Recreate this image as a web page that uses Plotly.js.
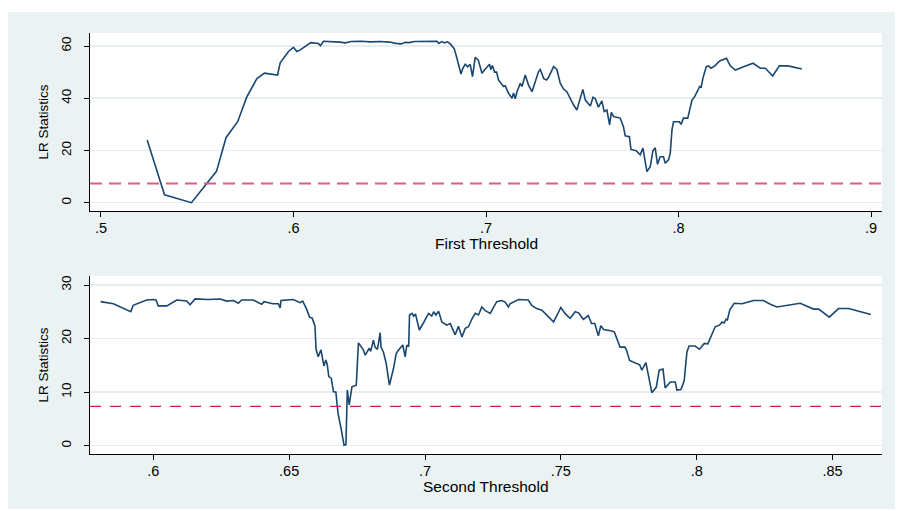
<!DOCTYPE html>
<html>
<head>
<meta charset="utf-8">
<script src="https://cdn.plot.ly/plotly-3.0.1.min.js"></script>
<style>
  html, body { margin: 0; padding: 0; background: #ffffff; width: 898px; height: 511px; overflow: hidden; }
  #plot { position: absolute; left: 8px; top: 12px; width: 887px; height: 497px; }
</style>
</head>
<body>
<div id="plot"></div>
<script>
// ---- Data ----
const firstThreshold = [
  0.524, 0.533, 0.547, 0.560, 0.565, 0.571, 0.5757, 0.5809, 0.5849, 0.5917,
  0.5931, 0.5974, 0.6000, 0.6017, 0.6035, 0.6090, 0.6130, 0.6140, 0.6156, 0.6200,
  0.6240, 0.6270, 0.6300, 0.6350, 0.6400, 0.6450, 0.6500, 0.6530, 0.6560, 0.6580,
  0.6600, 0.6630, 0.6680, 0.6720, 0.6745, 0.6755, 0.6770, 0.6785, 0.6800, 0.6814,
  0.6835, 0.6849, 0.6870, 0.6880, 0.6892, 0.6905, 0.6918, 0.6930, 0.6944, 0.6960,
  0.6979, 0.7000, 0.7018, 0.7025, 0.7033, 0.7045, 0.7055, 0.7065, 0.7078, 0.7091,
  0.7100, 0.7117, 0.7135, 0.7143, 0.7152, 0.7161, 0.7178, 0.7187, 0.7204, 0.7221,
  0.7239, 0.7256, 0.7273, 0.7282, 0.7300, 0.7315, 0.7325, 0.7351, 0.7368, 0.7386,
  0.7403, 0.7420, 0.7437, 0.7455, 0.7472, 0.7486, 0.7503, 0.7516, 0.7542, 0.7556,
  0.7568, 0.7584, 0.7602, 0.7614, 0.7628, 0.7642, 0.7651, 0.7663, 0.7697, 0.7714,
  0.7723, 0.7745, 0.7753, 0.7780, 0.7801, 0.7815, 0.7836, 0.7853, 0.7867, 0.7879,
  0.7891, 0.7905, 0.7922, 0.7931, 0.7948, 0.7957, 0.7966, 0.7974, 0.8004, 0.8013,
  0.8026, 0.8048, 0.8070, 0.8084, 0.8096, 0.8105, 0.8110, 0.8117, 0.8127, 0.8144,
  0.8156, 0.8169, 0.8190, 0.8214, 0.8249, 0.8269, 0.8295, 0.8338, 0.8387, 0.8425,
  0.8451, 0.8489, 0.8524, 0.8568, 0.8616, 0.8641
];
const lrFirst = [
  24.0, 3.0, 0.0, 12.0, 25.0, 31.0, 40.4, 47.4, 49.6, 48.9,
  53.6, 57.9, 59.5, 57.9, 58.5, 61.3, 61.0, 60.1, 61.8, 61.7,
  61.5, 61.2, 61.7, 61.8, 61.6, 61.7, 61.5, 61.0, 60.8, 61.4,
  61.3, 61.7, 61.8, 61.7, 61.8, 61.0, 61.7, 61.2, 61.6, 60.8,
  59.0, 55.3, 49.3, 51.5, 53.0, 52.0, 53.0, 48.3, 55.7, 54.6,
  49.6, 51.5, 53.0, 51.0, 52.5, 50.0, 50.0, 47.0, 45.5, 44.5,
  44.8, 41.9, 40.0, 42.0, 39.8, 42.5, 45.7, 44.5, 48.9, 45.0,
  42.5, 46.5, 50.2, 51.0, 47.5, 47.0, 48.0, 52.1, 51.0, 45.7,
  43.5, 42.5, 40.0, 37.4, 35.5, 39.5, 43.4, 39.3, 37.0, 40.4,
  39.8, 36.6, 39.0, 34.9, 35.5, 29.8, 34.6, 33.0, 32.4, 29.1,
  25.6, 25.3, 20.4, 19.9, 18.3, 20.9, 11.9, 13.8, 19.9, 21.0,
  14.7, 17.6, 17.6, 15.1, 16.4, 18.9, 27.9, 31.0, 31.0, 30.0,
  32.4, 32.4, 39.3, 40.6, 42.5, 43.5, 44.5, 44.0, 47.7, 52.1,
  52.4, 51.5, 52.5, 54.3, 55.3, 52.4, 50.8, 52.1, 53.4, 51.5,
  51.5, 48.5, 52.4, 52.4, 51.5, 51.2
];

const secondThreshold = [
  0.5806, 0.5853, 0.5917, 0.5926, 0.5975, 0.6000, 0.6010, 0.6018, 0.6050, 0.6086,
  0.6123, 0.6135, 0.6154, 0.6200, 0.6246, 0.6270, 0.6295, 0.6313, 0.6325, 0.6368,
  0.6399, 0.6408, 0.6440, 0.6460, 0.6467, 0.6470, 0.6515, 0.6540, 0.6550, 0.6565,
  0.6575, 0.6585, 0.6595, 0.6599, 0.6607, 0.6617, 0.6628, 0.6635, 0.6640, 0.6646,
  0.6655, 0.6663, 0.6672, 0.6680, 0.6690, 0.6702, 0.6709, 0.6714, 0.6721, 0.6731,
  0.6747, 0.6755, 0.6773, 0.6780, 0.6795, 0.6800, 0.6810, 0.6816, 0.6825, 0.6835,
  0.6838, 0.6847, 0.6857, 0.6869, 0.6884, 0.6894, 0.6902, 0.6911, 0.6918, 0.6927,
  0.6933, 0.6940, 0.6943, 0.6952, 0.6958, 0.6965, 0.6979, 0.6995, 0.7013, 0.7025,
  0.7032, 0.7040, 0.7050, 0.7062, 0.7080, 0.7093, 0.7111, 0.7123, 0.7136, 0.7148,
  0.7160, 0.7173, 0.7185, 0.7197, 0.7209, 0.7222, 0.7240, 0.7264, 0.7282, 0.7295,
  0.7307, 0.7313, 0.7344, 0.7380, 0.7393, 0.7411, 0.7430, 0.7454, 0.7473, 0.7485,
  0.7500, 0.7515, 0.7534, 0.7553, 0.7565, 0.7571, 0.7583, 0.7601, 0.7613, 0.7625,
  0.7638, 0.7647, 0.7657, 0.7688, 0.7697, 0.7706, 0.7718, 0.7736, 0.7742, 0.7753,
  0.7774, 0.7790, 0.7798, 0.7813, 0.7835, 0.7851, 0.7862, 0.7876, 0.7884, 0.7903,
  0.7921, 0.7927, 0.7942, 0.7954, 0.7964, 0.7972, 0.7994, 0.8010, 0.8028, 0.8041,
  0.8068, 0.8084, 0.8093, 0.8101, 0.8108, 0.8113, 0.8122, 0.8138, 0.8167, 0.8185,
  0.8209, 0.8246, 0.8271, 0.8295, 0.8338, 0.8381, 0.8430, 0.8449, 0.8488, 0.8522,
  0.8559, 0.8600, 0.8641
];
const lrSecond = [
  26.9, 26.5, 25.0, 26.2, 27.2, 27.3, 27.2, 26.1, 26.1, 27.2,
  27.0, 26.3, 27.4, 27.3, 27.4, 27.0, 27.1, 26.6, 27.2, 27.2,
  26.4, 26.9, 26.5, 26.5, 25.7, 27.1, 27.3, 26.7, 27.0, 25.4,
  24.0, 23.8, 22.3, 18.0, 16.6, 17.9, 14.9, 16.0, 15.2, 12.9,
  12.6, 10.1, 10.0, 6.0, 3.5, 0.1, 0.2, 10.4, 7.6, 11.0,
  11.3, 19.2, 17.9, 16.9, 18.2, 17.6, 19.7, 18.4, 18.0, 21.1,
  18.4, 17.5, 15.4, 11.3, 14.4, 17.2, 17.8, 18.5, 18.8, 16.6,
  18.8, 18.5, 24.4, 24.7, 24.2, 24.6, 21.6, 23.0, 24.7, 24.2,
  25.0, 24.4, 25.1, 23.1, 22.5, 22.8, 20.7, 22.3, 20.3, 21.9,
  22.2, 23.7, 24.7, 24.4, 25.9, 25.2, 24.7, 26.9, 27.1, 26.8,
  25.9, 26.5, 27.3, 27.2, 26.2, 25.6, 25.3, 24.1, 23.1, 24.3,
  25.8, 24.7, 23.8, 25.0, 24.8, 24.4, 23.6, 24.3, 22.8, 22.8,
  20.5, 22.4, 21.7, 21.4, 21.2, 20.0, 18.4, 18.4, 17.8, 15.9,
  15.4, 15.1, 14.1, 15.5, 9.9, 10.9, 14.1, 14.3, 10.8, 11.9,
  11.9, 10.4, 10.5, 12.1, 17.5, 18.6, 18.6, 18.0, 19.1, 19.0,
  22.2, 22.5, 23.1, 22.9, 23.6, 23.5, 25.4, 26.6, 26.5, 26.8,
  27.1, 27.1, 26.4, 25.9, 26.2, 26.6, 25.5, 25.5, 24.0, 25.6,
  25.6, 25.0, 24.5
];

const criticalValue = 7.35;

const xTicksTop = [0.5, 0.6, 0.7, 0.8, 0.9];
const xTickTextTop = ['.5', '.6', '.7', '.8', '.9'];
const yTicksTop = [0, 20, 40, 60];
const xTicksBottom = [0.6, 0.65, 0.7, 0.75, 0.8, 0.85];
const xTickTextBottom = ['.6', '.65', '.7', '.75', '.8', '.85'];
const yTicksBottom = [0, 10, 20, 30];
const xTitleTop = 'First Threshold';
const xTitleBottom = 'Second Threshold';
const yTitle = 'LR Statistics';

// ---- Styling ----
const FONT = 'Liberation Sans, Arial, Helvetica, sans-serif';
const NAVY = '#1a476f';
const BG = '#eaf2f3';
const GRID = '#e6eef1';

function xAxis(range, vals, text, anchor) {
  return {
    range: range, tickmode: 'array', tickvals: vals, ticktext: text,
    ticks: 'outside', ticklen: 5, tickwidth: 1, tickcolor: '#000',
    showline: true, linecolor: '#000', linewidth: 1,
    showgrid: false, zeroline: false, anchor: anchor,
    ticklabelstandoff: -1,
    tickfont: {family: FONT, size: 14.5, color: '#000'},
    fixedrange: true
  };
}
function yAxis(range, vals, anchor, domain) {
  return {
    range: range, tickmode: 'array', tickvals: vals,
    ticks: 'outside', ticklen: 5, tickwidth: 1, tickcolor: '#000',
    showline: true, linecolor: '#000', linewidth: 1,
    showgrid: true, gridcolor: GRID, gridwidth: 1.5,
    zeroline: false, anchor: anchor, domain: domain,
    tickangle: -90, ticklabelstandoff: 8,
    tickfont: {family: FONT, size: 13.5, color: '#000'},
    title: {text: yTitle, font: {family: FONT, size: 13.5, color: '#000'}, standoff: 6},
    fixedrange: true
  };
}
function xTitle(text, xref, yref) {
  return {text: text, xref: xref, yref: yref, x: 0.5, y: 0, xanchor: 'center', yanchor: 'top',
          yshift: -23, showarrow: false, font: {family: FONT, size: 15.5, color: '#000'},
          borderpad: 0};
}

const traces = [
  {x: firstThreshold, y: lrFirst, type: 'scatter', mode: 'lines',
   line: {color: NAVY, width: 1.6}, xaxis: 'x', yaxis: 'y', hoverinfo: 'skip'},
  {x: secondThreshold, y: lrSecond, type: 'scatter', mode: 'lines',
   line: {color: NAVY, width: 1.6}, xaxis: 'x2', yaxis: 'y2', hoverinfo: 'skip'}
];

const layout = {
  width: 887, height: 497,
  margin: {l: 82, r: 13, t: 21, b: 55},
  paper_bgcolor: BG, plot_bgcolor: '#ffffff',
  showlegend: false,
  xaxis: xAxis([0.4943, 0.9057], xTicksTop, xTickTextTop, 'y'),
  yaxis: yAxis([-3.18, 64.98], yTicksTop, 'x', [0.5772, 1]),
  xaxis2: xAxis([0.5767, 0.8682], xTicksBottom, xTickTextBottom, 'y2'),
  yaxis2: yAxis([-1.55, 31.68], yTicksBottom, 'x2', [0, 0.4228]),
  annotations: [
    xTitle(xTitleTop, 'x domain', 'y domain'),
    xTitle(xTitleBottom, 'x2 domain', 'y2 domain')
  ],
  shapes: [
    {type: 'line', xref: 'x domain', yref: 'y', x0: 0, x1: 1, y0: criticalValue, y1: criticalValue,
     line: {color: '#d6627f', width: 2.2, dash: '12px,7px'}},
    {type: 'line', xref: 'x2 domain', yref: 'y2', x0: 0, x1: 1, y0: criticalValue, y1: criticalValue,
     line: {color: '#d81b44', width: 1.4, dash: '11px,9px'}}
  ]
};

Plotly.newPlot('plot', traces, layout, {displayModeBar: false, staticPlot: true});
</script>
</body>
</html>
